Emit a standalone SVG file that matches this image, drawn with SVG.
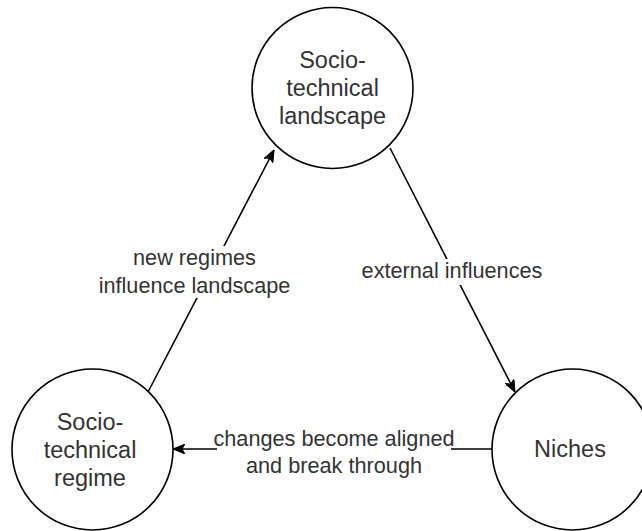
<svg xmlns="http://www.w3.org/2000/svg" width="642" height="531" viewBox="0 0 642 531">
<style>
.node{fill:#ffffff;stroke:#000000;stroke-width:1.6}
.edge{fill:none;stroke:#000000;stroke-width:1.6}
.nt{font-family:"Liberation Sans",Arial,Helvetica,sans-serif;font-size:23.5px;fill:#333333;text-anchor:middle}
.et{font-family:"Liberation Sans",Arial,Helvetica,sans-serif;font-size:21.7px;fill:#333333;text-anchor:middle}
.bg{fill:#ffffff}
</style>
<defs>
<marker id="arrow" viewBox="0 0 12 10" refX="12" refY="5" markerWidth="12" markerHeight="10" markerUnits="userSpaceOnUse" orient="auto">
<path d="M0,0 L12,5 L0,10 L3,5 z" fill="#000000" stroke="#000000" stroke-width="1"/>
</marker>
</defs>
<rect width="642" height="531" fill="#ffffff"/>
<g id="connectors">
<g id="edge-regime-landscape">
<line class="edge" x1="148" y1="392" x2="274" y2="150" marker-end="url(#arrow)"/>
<rect class="bg" x="128" y="246" width="170" height="52"/>
<text class="et" x="194.5" y="265">new regimes</text>
<text class="et" x="194.5" y="293">influence landscape</text>
</g>
<g id="edge-landscape-niches">
<line class="edge" x1="390" y1="148" x2="515" y2="392" marker-end="url(#arrow)"/>
<rect class="bg" x="358" y="259" width="188" height="26"/>
<text class="et" x="452" y="278">external influences</text>
</g>
<g id="edge-niches-regime">
<line class="edge" x1="492" y1="449" x2="173" y2="449" marker-end="url(#arrow)"/>
<rect class="bg" x="217" y="424" width="234" height="55"/>
<text class="et" x="334" y="446">changes become aligned</text>
<text class="et" x="334" y="473">and break through</text>
</g>
</g>
<g id="node-landscape">
<circle class="node" cx="332.5" cy="88" r="80.5"/>
<text class="nt" x="332.5" y="68">Socio-</text>
<text class="nt" x="332.5" y="96">technical</text>
<text class="nt" x="332.5" y="124">landscape</text>
</g>
<g id="node-regime">
<circle class="node" cx="92.5" cy="449.5" r="80.5"/>
<text class="nt" x="90" y="430">Socio-</text>
<text class="nt" x="90" y="458">technical</text>
<text class="nt" x="90" y="486">regime</text>
</g>
<g id="node-niches">
<circle class="node" cx="572.5" cy="449.5" r="80.5"/>
<text class="nt" x="570" y="457">Niches</text>
</g>
</svg>
